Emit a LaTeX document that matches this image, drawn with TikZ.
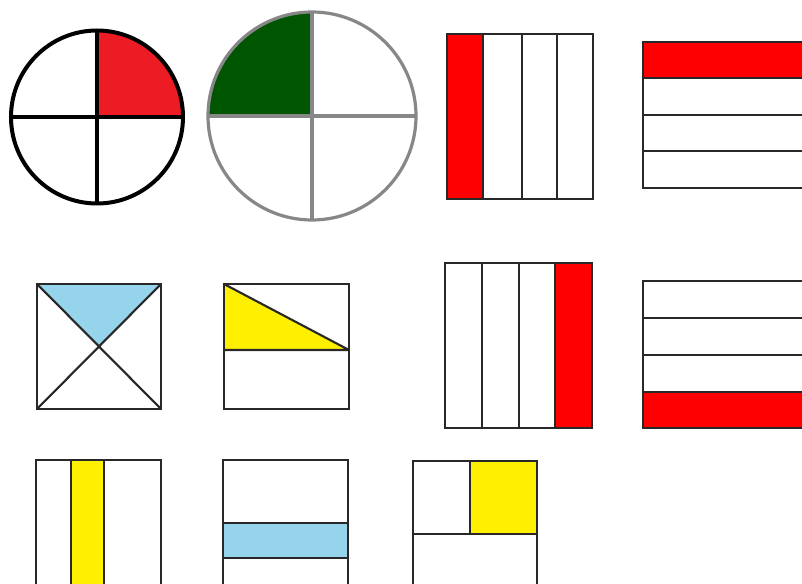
\documentclass[tikz,border=0pt]{standalone}
\usetikzlibrary{calc}
\definecolor{cred}{RGB}{237,28,36}
\definecolor{rred}{RGB}{255,0,0}
\definecolor{dgreen}{RGB}{0,85,0}
\definecolor{lblue}{RGB}{150,212,235}
\definecolor{yel}{RGB}{255,240,0}
\definecolor{lgray}{RGB}{135,135,135}
\definecolor{edge}{RGB}{40,40,40}
\tikzset{
  box/.style={draw=edge, line width=1.8pt},
  thin/.style={draw=edge, line width=1.6pt},
}
\begin{document}
\begin{tikzpicture}[x=0.75pt,y=-0.75pt]
\useasboundingbox (0,0) rectangle (802,584);
\clip (0,0) rectangle (802,584);
\fill[white] (0,0) rectangle (802,584);
% circle 1
\fill[cred] (97,117) -- (97,30.5) arc[start angle=90,end angle=0,x radius=86,y radius=-86.5] -- cycle;
\draw[black,line width=3pt] (97,117) ellipse[x radius=86,y radius=86.5];
\draw[black,line width=2.6pt] (97,30.5) -- (97,203.5) (11,117) -- (183,117);
% circle 2
\fill[dgreen] (312,116) -- (312,12) arc[start angle=90,end angle=180,x radius=104,y radius=-104] -- cycle;
\draw[lgray,line width=2.4pt] (312,116) circle[radius=104];
\draw[lgray,line width=2.4pt] (312,12) -- (312,220) (208,116) -- (416,116);
% vertical strips top
\fill[rred] (447,34) rectangle (483,199);
\draw[box] (447,34) rectangle (593,199);
\draw[thin] (483,34) -- (483,199) (522,34) -- (522,199) (557,34) -- (557,199);
% horizontal strips top
\fill[rred] (643,42) rectangle (810,78);
\draw[box] (810,42) -- (643,42) -- (643,188) -- (810,188);
\draw[thin] (643,78) -- (810,78) (643,115) -- (810,115) (643,151) -- (810,151);
% X square
\fill[lblue] (37,284) -- (161,284) -- (99,347) -- cycle;
\draw[box] (37,284) rectangle (161,409);
\draw[thin] (37,284) -- (161,409) (161,284) -- (37,409);
% yellow triangle rect
\fill[yel] (224,284) -- (224,350) -- (349,350) -- cycle;
\draw[box] (224,284) rectangle (349,409);
\draw[thin] (224,350) -- (349,350) (224,284) -- (349,350);
% vertical strips middle
\fill[rred] (555,263) rectangle (592,428);
\draw[box] (445,263) rectangle (592,428);
\draw[thin] (482,263) -- (482,428) (519,263) -- (519,428) (555,263) -- (555,428);
% horizontal strips middle
\fill[rred] (643,392) rectangle (810,428);
\draw[box] (810,281) -- (643,281) -- (643,428) -- (810,428);
\draw[thin] (643,318) -- (810,318) (643,355) -- (810,355) (643,392) -- (810,392);
% bottom row
\fill[yel] (71,460) rectangle (104,600);
\draw[box] (36,460) rectangle (161,600);
\draw[thin] (71,460) -- (71,600) (104,460) -- (104,600);
\fill[lblue] (223,523) rectangle (348,558);
\draw[box] (223,460) rectangle (348,600);
\draw[thin] (223,523) -- (348,523) (223,558) -- (348,558);
\fill[yel] (470,461) rectangle (537,534);
\draw[box] (413,461) rectangle (537,600);
\draw[thin] (413,534) -- (537,534) (470,461) -- (470,534);
\end{tikzpicture}
\end{document}
